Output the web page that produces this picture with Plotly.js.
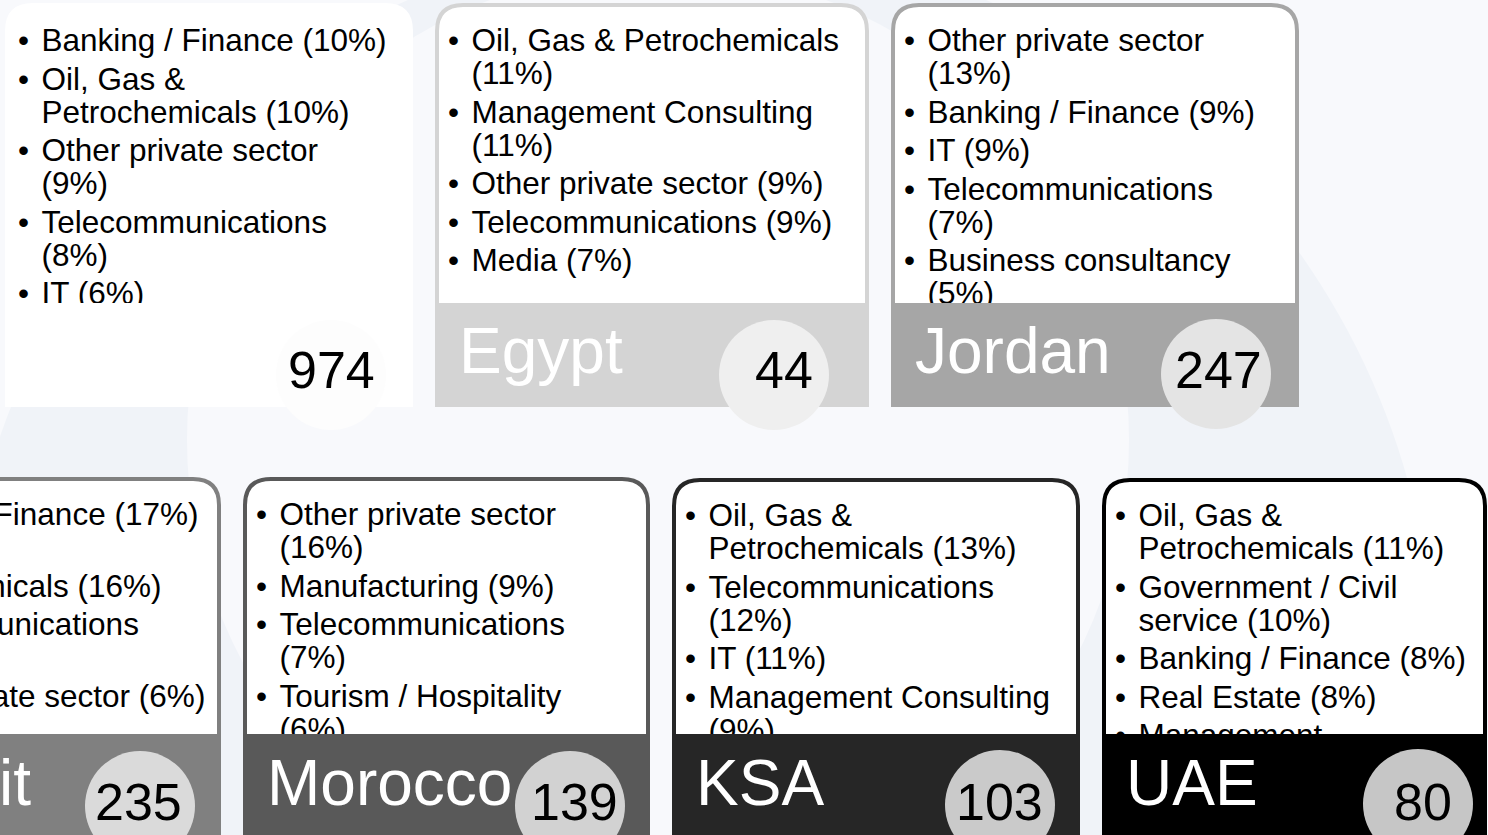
<!DOCTYPE html>
<html>
<head>
<meta charset="utf-8">
<script src="https://cdn.plot.ly/plotly-3.0.1.min.js"></script>
<style>
html,body{margin:0;padding:0;background:#f8f9fc;overflow:hidden}
#chart{width:1488px;height:835px}
</style>
</head>
<body>
<div id="chart"></div>
<script>
// ---------------- data ----------------
const countries   = ["", "Egypt", "Jordan", "Kuwait", "Morocco", "KSA", "UAE"];
const respondents = [974, 44, 247, 235, 139, 103, 80];

const sectorsOverall = ["Banking / Finance", "Oil, Gas & Petrochemicals", "Other private sector", "Telecommunications", "IT"];
const pctOverall     = [10, 10, 9, 8, 6];
const sectorsEgypt   = ["Oil, Gas & Petrochemicals", "Management Consulting", "Other private sector", "Telecommunications", "Media"];
const pctEgypt       = [11, 11, 9, 9, 7];
const sectorsJordan  = ["Other private sector", "Banking / Finance", "IT", "Telecommunications", "Business consultancy"];
const pctJordan      = [13, 9, 9, 7, 5];
const sectorsKuwait  = ["Banking / Finance", "Oil, Gas & Petrochemicals", "Telecommunications", "Other private sector"];
const pctKuwait      = [17, 16, 7, 6];
const sectorsMorocco = ["Other private sector", "Manufacturing", "Telecommunications", "Tourism / Hospitality"];
const pctMorocco     = [16, 9, 7, 6];
const sectorsKSA     = ["Oil, Gas & Petrochemicals", "Telecommunications", "IT", "Management Consulting"];
const pctKSA         = [13, 12, 11, 9];
const sectorsUAE     = ["Oil, Gas & Petrochemicals", "Government / Civil service", "Banking / Finance", "Real Estate", "Management Consulting"];
const pctUAE         = [11, 10, 8, 8, null];

const sectorLists = [sectorsOverall, sectorsEgypt, sectorsJordan, sectorsKuwait, sectorsMorocco, sectorsKSA, sectorsUAE];
const pctLists    = [pctOverall, pctEgypt, pctJordan, pctKuwait, pctMorocco, pctKSA, pctUAE];

// ---------------- layout / style (positions in pixel units of the axes) ----------------
const W = 1488, H = 835;
const FONT = '"Liberation Sans", Arial, sans-serif';
const FS = 31.5, NAME_FS = 64, NUM_FS = 52;
const cards = [
  {x0:5,    x1:413,  y0:3,   band:303, y1:407, col:'#ffffff', circ:'#fdfdfd', cx:331,  cy:375, nx:331,   tw:348},
  {x0:435,  x1:869,  y0:3,   band:303, y1:407, col:'#d4d4d4', circ:'#efefef', cx:774,  cy:375, nx:783.5, tw:390},
  {x0:891,  x1:1299, y0:3,   band:303, y1:407, col:'#a6a6a6', circ:'#e4e4e4', cx:1216, cy:374, nx:1218.5,tw:345},
  {x0:-183, x1:221,  y0:477, band:734, y1:860, col:'#808080', circ:'#dadada', cx:140,  cy:806, nx:138.5, tw:358},
  {x0:243,  x1:650,  y0:477, band:734, y1:860, col:'#595959', circ:'#d2d2d2', cx:570,  cy:806, nx:574,   tw:345},
  {x0:672,  x1:1080, y0:478, band:734, y1:860, col:'#262626', circ:'#cacaca', cx:1000, cy:805, nx:999,   tw:355},
  {x0:1102, x1:1487, y0:478, band:734, y1:860, col:'#000000', circ:'#c6c6c6', cx:1418, cy:804, nx:1423,  tw:334}
];

const ctx = document.createElement('canvas').getContext('2d');
function measure(t, size){ ctx.font = size + 'px "Liberation Sans"'; return ctx.measureText(t).width; }
function wrap(str, maxW){
  const words = str.split(' '); const lines = []; let cur = '';
  for (const w of words){
    const t = cur ? cur + ' ' + w : w;
    if (!cur || measure(t, FS) <= maxW) cur = t; else { lines.push(cur); cur = w; }
  }
  if (cur) lines.push(cur);
  return lines;
}

const bx = [], by = [], bt = [];   // bullets
const tx = [], ty = [], tt = [];   // text lines
const shapes = [];
const annotations = [];

// faint background decoration
shapes.push({type:'circle', layer:'below', xref:'x', yref:'y', x0:-41, x1:1435, y0:-59, y1:1417,
             fillcolor:'#f0f3f8', line:{width:0}});
shapes.push({type:'circle', layer:'below', xref:'x', yref:'y', x0:187, x1:1129, y0:-31, y1:911,
             fillcolor:'#f8f9fc', line:{width:0}});

cards.forEach((c, i) => {
  const R = 26, bw = 4, h = bw / 2;
  const a0 = c.x0 + h, a1 = c.x1 - h, t0 = c.y0 + h, yb = c.band + 2;
  shapes.push({type:'path', layer:'below', xref:'x', yref:'y',
    path:`M ${a0},${yb} L ${a0},${t0+R} Q ${a0},${t0} ${a0+R},${t0} L ${a1-R},${t0} Q ${a1},${t0} ${a1},${t0+R} L ${a1},${yb} Z`,
    fillcolor:'#ffffff', line:{color:c.col, width:bw}});
  // bullet text lines
  let capTop = c.y0 + 25.5;
  let first = true;
  sectorLists[i].forEach((s, k) => {
    const p = pctLists[i][k];
    const label = p == null ? s : `${s} (${p}%)`;
    const lines = wrap(label, c.tw);
    lines.forEach((ln, j) => {
      if (!first) capTop += (j === 0 ? 38.5 : 33);
      first = false;
      if (capTop >= c.band) return;
      const yMid = capTop + 14.7;
      if (j === 0){ bx.push(c.x0 + 13); by.push(yMid); bt.push('•'); }
      tx.push(c.x0 + 36.5); ty.push(yMid); tt.push(ln);
    });
  });
  // band
  shapes.push({type:'rect', layer:'above', xref:'x', yref:'y', x0:c.x0, x1:c.x1, y0:c.band, y1:c.y1,
               fillcolor:c.col, line:{width:0}});
  // circle
  shapes.push({type:'circle', layer:'above', xref:'x', yref:'y', x0:c.cx-55, x1:c.cx+55, y0:c.cy-55, y1:c.cy+55,
               fillcolor:c.circ, line:{width:0}});
  // country name
  const baseName = c.y0 < 100 ? 373 : 805;
  if (countries[i]){
    let nx = c.x0 + 22, anchor = 'left';
    if (nx < 0){ nx = nx + measure(countries[i], NAME_FS) + 2; anchor = 'right'; }
    annotations.push({xref:'x', yref:'y', x:nx, y:baseName - 22.2, xanchor:anchor, yanchor:'middle',
      text:countries[i], showarrow:false, font:{family:FONT, size:NAME_FS, color:'#ffffff'}});
  }
  // respondent number
  const baseNum = c.y0 < 100 ? 387.5 : 820;
  annotations.push({xref:'x', yref:'y', x:c.nx, y:baseNum - 18, xanchor:'center', yanchor:'middle',
    text:String(respondents[i]), showarrow:false, font:{family:FONT, size:NUM_FS, color:'#000000'}});
});

const traces = [
  {type:'scatter', mode:'text', x:bx, y:by, text:bt, textposition:'middle right', cliponaxis:true,
   textfont:{family:FONT, size:FS, color:'#000000'}, hoverinfo:'skip', showlegend:false},
  {type:'scatter', mode:'text', x:tx, y:ty, text:tt, textposition:'middle right', cliponaxis:true,
   textfont:{family:FONT, size:FS, color:'#000000'}, hoverinfo:'skip', showlegend:false}
];

const layout = {
  width:W, height:H, margin:{l:0, r:0, t:0, b:0, pad:0},
  paper_bgcolor:'#f8f9fc', plot_bgcolor:'rgba(0,0,0,0)',
  xaxis:{range:[0, W], visible:false, fixedrange:true},
  yaxis:{range:[H, 0], visible:false, fixedrange:true},
  showlegend:false, hovermode:false,
  shapes:shapes, annotations:annotations
};

Plotly.newPlot('chart', traces, layout, {displayModeBar:false, staticPlot:true});
</script>
</body>
</html>
